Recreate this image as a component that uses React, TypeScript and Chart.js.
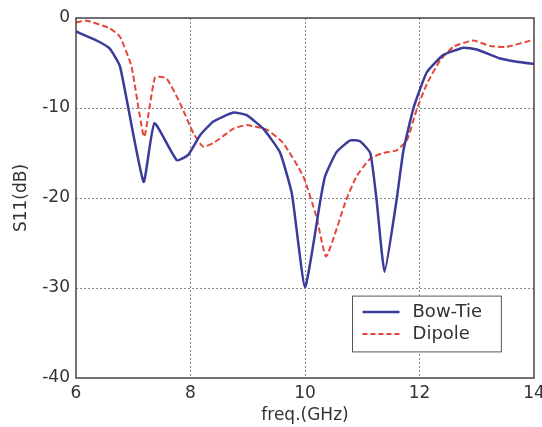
import React, { useEffect, useRef } from "react";
import { Chart, registerables } from "chart.js";

Chart.register(...registerables);

const bowTieX = [6, 6.36, 6.59, 6.77, 7.18, 7.37, 7.76, 7.96, 8.17, 8.4, 8.75, 8.98, 9.27, 9.56, 9.77, 10.0, 10.27, 10.35, 10.55, 10.79, 10.96, 11.14, 11.25, 11.39, 11.6, 11.72, 11.9, 12.13, 12.42, 12.77, 13.0, 13.41, 13.7, 14];
const bowTieY = [-1.5, -2.5, -3.4, -5.4, -18.2, -11.7, -15.8, -15.2, -13.0, -11.5, -10.5, -10.8, -12.3, -14.9, -19.5, -29.9, -20.2, -17.6, -14.9, -13.6, -13.7, -15.0, -20.2, -28.2, -20.2, -14.7, -9.9, -6.0, -4.1, -3.3, -3.5, -4.5, -4.85, -5.1];

const dipoleX = [6, 6.19, 6.59, 6.77, 6.97, 7.19, 7.38, 7.58, 7.82, 8.05, 8.22, 8.4, 8.75, 8.98, 9.33, 9.62, 9.97, 10.2, 10.37, 10.72, 10.9, 11.14, 11.37, 11.6, 11.78, 11.95, 12.13, 12.36, 12.59, 12.94, 13.23, 13.52, 14];
const dipoleY = [-0.5, -0.3, -1.15, -2.1, -5.4, -13.2, -6.6, -6.7, -9.5, -12.8, -14.3, -13.9, -12.3, -11.9, -12.4, -13.9, -17.6, -22.1, -26.5, -20.2, -17.6, -15.6, -15.0, -14.7, -13.6, -10.2, -7.3, -4.7, -3.2, -2.5, -3.1, -3.2, -2.4];

const seriesNames = ["Bow-Tie", "Dipole"];
const seriesColors = ["#3b3b9b", "#e5483a"];
const xTicks = [6, 8, 10, 12, 14];
const yTicks = [-40, -30, -20, -10, 0];

const FONT = "'DejaVu Sans', sans-serif";
const TEXT = "#333333";

const framePlugin = {
  id: "frameAndLegend",
  afterDatasetsDraw(chart: any) {
    const { ctx, chartArea: a } = chart;
    ctx.save();
    ctx.strokeStyle = "#444444";
    ctx.lineWidth = 1.5;
    ctx.strokeRect(a.left, a.top, a.right - a.left, a.bottom - a.top);
    const xs = chart.scales.x;
    const ys = chart.scales.y;
    const bx = xs.getPixelForValue(10.83);
    const by = ys.getPixelForValue(-30.9);
    const bw = xs.getPixelForValue(13.43) - bx;
    const bh = ys.getPixelForValue(-37.1) - by;
    ctx.fillStyle = "#ffffff";
    ctx.fillRect(bx, by, bw, bh);
    ctx.strokeStyle = "#555555";
    ctx.lineWidth = 1;
    ctx.strokeRect(bx, by, bw, bh);
    ctx.font = "18px " + FONT;
    ctx.textBaseline = "middle";
    ctx.textAlign = "left";
    for (let i = 0; i < seriesNames.length; i++) {
      const ly = by + 16 + i * 22;
      ctx.beginPath();
      ctx.strokeStyle = seriesColors[i];
      ctx.lineWidth = i === 0 ? 2.5 : 2;
      ctx.setLineDash(i === 0 ? [] : [5, 3]);
      ctx.moveTo(bx + 10, ly);
      ctx.lineTo(bx + 47, ly);
      ctx.stroke();
      ctx.setLineDash([]);
      ctx.fillStyle = TEXT;
      ctx.fillText(seriesNames[i], bx + 60, ly);
    }
    ctx.restore();
  },
};

export default function App() {
  const ref = useRef<HTMLCanvasElement>(null);
  useEffect(() => {
    if (!ref.current) return;
    const chart = new Chart(ref.current, {
      type: "line",
      data: {
        datasets: [
          {
            label: seriesNames[0],
            data: bowTieX.map((x, i) => ({ x, y: bowTieY[i] })),
            borderColor: seriesColors[0],
            borderWidth: 2.5,
            pointRadius: 0,
            tension: 0.15,
          },
          {
            label: seriesNames[1],
            data: dipoleX.map((x, i) => ({ x, y: dipoleY[i] })),
            borderColor: seriesColors[1],
            borderWidth: 2,
            borderDash: [6, 3],
            pointRadius: 0,
            tension: 0.15,
          },
        ],
      },
      options: {
        animation: false,
        responsive: false,
        maintainAspectRatio: false,
        layout: { padding: { left: 0, right: 8, top: 18, bottom: 0 } },
        plugins: { legend: { display: false }, tooltip: { enabled: false } },
        scales: {
          x: {
            type: "linear",
            min: 6,
            max: 14,
            afterFit: (s: any) => { s.height = 49; s.paddingRight = 0; s.paddingLeft = 0; },
            afterBuildTicks: (s: any) => { s.ticks = xTicks.map((v) => ({ value: v })); },
            ticks: { font: { family: FONT, size: 17 }, color: TEXT, padding: 5, maxRotation: 0 },
            grid: {
              drawTicks: false,
              color: (c: any) => (c.tick && (c.tick.value === 6 || c.tick.value === 14) ? "rgba(0,0,0,0)" : "#8a8a8a"),
              lineWidth: 1,
            },
            border: { display: false, dash: [2, 2] },
            title: { display: true, text: "freq.(GHz)", font: { family: FONT, size: 17 }, color: TEXT, padding: { top: 0, bottom: 1 } },
          },
          y: {
            type: "linear",
            min: -40,
            max: 0,
            afterFit: (s: any) => { s.width = 76; s.paddingTop = 0; s.paddingBottom = 0; },
            afterBuildTicks: (s: any) => { s.ticks = yTicks.map((v) => ({ value: v })); },
            ticks: { font: { family: FONT, size: 17 }, color: TEXT, padding: 6 },
            grid: {
              drawTicks: false,
              color: (c: any) => (c.tick && (c.tick.value === 0 || c.tick.value === -40) ? "rgba(0,0,0,0)" : "#8a8a8a"),
              lineWidth: 1,
            },
            border: { display: false, dash: [2, 2] },
            title: { display: true, text: "S11(dB)", font: { family: FONT, size: 17 }, color: TEXT, padding: { top: 11, bottom: 0 } },
          },
        },
      },
      plugins: [framePlugin],
    });
    return () => chart.destroy();
  }, []);
  return (
    <div style={{ position: "fixed", left: 0, top: 0, width: 542, height: 427, background: "#fff" }}>
      <canvas ref={ref} width={542} height={427} style={{ display: "block", width: 542, height: 427 }} />
    </div>
  );
}
